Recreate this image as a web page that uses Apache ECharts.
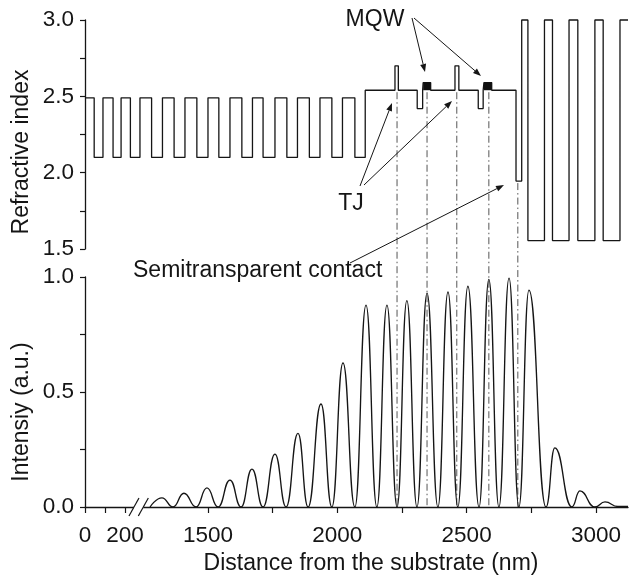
<!DOCTYPE html>
<html><head><meta charset="utf-8">
<script src="https://cdn.jsdelivr.net/npm/echarts@6/dist/echarts.min.js"></script>
<style>html,body{margin:0;padding:0;background:#fff}#c{width:631px;height:581px}</style>
</head><body><div id="c"></div>
<script>
// ---------------- data ----------------
// Layer boundaries of the structure (nm, on the distance-axis scale) and refractive index of each layer
const layerEdges = [1024.5, 1060, 1094, 1133, 1164, 1200, 1237, 1282, 1324, 1369, 1411, 1457, 1500, 1542,
  1585, 1631, 1672, 1713, 1759, 1805, 1846, 1892, 1933, 1979, 2020, 2068,
  2108, 2223, 2236, 2309, 2330, 2332, 2361, 2455, 2470, 2545, 2564, 2567, 2597,
  2691, 2713, 2737, 2801, 2832, 2896, 2930, 2996, 3028, 3093, 3124];
const layerIndex = [2.49, 2.10, 2.49, 2.10, 2.49, 2.10, 2.49, 2.10, 2.49, 2.10, 2.49, 2.10, 2.49, 2.10,
  2.49, 2.10, 2.49, 2.10, 2.49, 2.10, 2.49, 2.10, 2.49, 2.10, 2.49, 2.10,
  2.54, 2.70, 2.54, 2.42, 2.54, 2.59, 2.54, 2.70, 2.54, 2.42, 2.54, 2.59, 2.54,
  1.945, 3.0, 1.555, 3.0, 1.555, 3.0, 1.555, 3.0, 1.555, 3.0, 3.0];
// MQW regions
const mqwStart = [2332, 2567];
const mqwEnd = [2361, 2597];
const mqwLow = [2.54, 2.54];
const mqwHigh = [2.59, 2.59];
// dash-dot guide lines: TJ, MQW, TJ, MQW, semitransparent contact
const guideX = [2231, 2347, 2462, 2586, 2698];
const guideFrom = [2.54, 2.54, 2.54, 2.54, 1.945];
// standing-wave intensity (extrema)
const intensityX = [1276, 1322, 1365, 1407, 1454, 1496, 1539, 1585, 1628, 1670, 1713, 1759, 1802, 1848, 1887,
  1937, 1979, 2022, 2068, 2111, 2153, 2192, 2231, 2269, 2308, 2347, 2389, 2428, 2466, 2505, 2548,
  2586, 2625, 2664, 2702, 2741, 2807, 2841, 2907, 2938, 2996, 3035, 3085, 3124];
const intensityY = [0.0, 0.04, 0.0, 0.06, 0.0, 0.083, 0.0, 0.117, 0.0, 0.165, 0.0, 0.23, 0.0, 0.32, 0.0,
  0.448, 0.0, 0.626, 0.0, 0.878, 0.0, 0.878, 0.0, 0.897, 0.0, 0.93, 0.0, 0.935, 0.0, 0.96, 0.0,
  0.99, 0.0, 0.995, 0.0, 0.943, 0.0, 0.257, 0.0, 0.07, 0.0, 0.022, 0.002, 0.002];
// x-axis ticks (nm): before and after the axis break
const xTicksLow = [0, 100, 200];
const xTicksHigh = [1500, 1750, 2000, 2250, 2500, 2750, 3000];
const xLabelValues = [0, 200, 1500, 2000, 2500, 3000];
const yTopTicks = [1.5, 2.0, 2.5, 3.0];
const yBottomTicks = [0.0, 0.5, 1.0];

// ---------------- broken distance axis ----------------
const BREAK_NM = 1000, LOW_ORIGIN = 1024.5, LOW_SCALE = 0.773;
const X_MIN = 1024.5, X_MAX = 3124;
function toAxis(nm) { return nm < BREAK_NM ? LOW_ORIGIN + nm * LOW_SCALE : nm; }
const labelMap = {};
xLabelValues.forEach(v => { labelMap[toAxis(v).toFixed(2)] = String(v); });

const FONT = 'Liberation Sans, Arial, Helvetica, sans-serif';
const INK = '#151515';

const chart = echarts.init(document.getElementById('c'), null, {renderer: 'canvas'});

function yFmt(ticks) {
  return v => ticks.some(t => Math.abs(t - v) < 1e-6) ? v.toFixed(1) : '';
}

chart.setOption({
  animation: false,
  backgroundColor: '#fff',
  grid: [
    {left: 85, right: 3, top: 20, height: 229, containLabel: false},
    {left: 85, right: 3, top: 277, height: 230, containLabel: false}
  ],
  xAxis: [
    {gridIndex: 0, type: 'value', min: X_MIN, max: X_MAX, show: false},
    {gridIndex: 1, type: 'value', min: X_MIN, max: X_MAX,
      axisLine: {show: true, onZero: false, lineStyle: {color: INK, width: 1.3}},
      axisTick: {show: true, length: 6, inside: false, lineStyle: {color: INK, width: 1.2},
        customValues: xTicksLow.map(toAxis).concat(xTicksHigh.map(toAxis))},
      axisLabel: {show: true, customValues: xLabelValues.map(toAxis), fontSize: 22.5, fontFamily: FONT,
        color: INK, margin: 17, formatter: v => labelMap[Number(v).toFixed(2)] || ''},
      splitLine: {show: false}
    }
  ],
  yAxis: [
    {gridIndex: 0, type: 'value', min: 1.5, max: 3.0, interval: 0.25,
      axisLine: {show: true, lineStyle: {color: INK, width: 1.3}},
      axisTick: {show: true, length: 5, lineStyle: {color: INK, width: 1.2}},
      axisLabel: {fontSize: 22.5, fontFamily: FONT, color: INK, margin: 11, formatter: yFmt(yTopTicks)},
      splitLine: {show: false}},
    {gridIndex: 1, type: 'value', min: 0, max: 1.0, interval: 0.25,
      axisLine: {show: true, lineStyle: {color: INK, width: 1.3}},
      axisTick: {show: true, length: 5, lineStyle: {color: INK, width: 1.2}},
      axisLabel: {fontSize: 22.5, fontFamily: FONT, color: INK, margin: 11, formatter: yFmt(yBottomTicks)},
      splitLine: {show: false}}
  ],
  series: [
    {type: 'line', xAxisIndex: 0, yAxisIndex: 0, step: 'end', symbol: 'none', clip: false,
      data: layerEdges.map((x, i) => [toAxis(x), layerIndex[i]]),
      lineStyle: {color: INK, width: 1.3}, z: 3},
    {type: 'custom', xAxisIndex: 0, yAxisIndex: 0, clip: false,
      data: mqwStart.map((s, i) => [toAxis(s), toAxis(mqwEnd[i]), mqwLow[i], mqwHigh[i]]),
      renderItem: (params, api) => {
        const p0 = api.coord([api.value(0), api.value(3)]);
        const p1 = api.coord([api.value(1), api.value(2)]);
        return {type: 'rect', shape: {x: p0[0], y: p0[1], width: p1[0] - p0[0], height: p1[1] - p0[1]},
          style: {fill: '#111'}};
      }, z: 4},
    {type: 'line', xAxisIndex: 1, yAxisIndex: 1, symbol: 'none', smooth: 0.5, smoothMonotone: 'x',
      data: intensityX.map((x, i) => [toAxis(x), intensityY[i]]),
      lineStyle: {color: INK, width: 1.35}, z: 3}
  ]
});

// ---------------- annotations ----------------
function arrow(x1, y1, x2, y2) {
  const a = Math.atan2(y2 - y1, x2 - x1), L = 8, W = 3;
  const bx = x2 - L * Math.cos(a), by = y2 - L * Math.sin(a);
  return [
    {type: 'line', shape: {x1, y1, x2: bx, y2: by}, style: {stroke: INK, lineWidth: 1}, z: 10},
    {type: 'polygon', shape: {points: [[x2, y2],
      [bx + W * Math.sin(a), by - W * Math.cos(a)], [bx - W * Math.sin(a), by + W * Math.cos(a)]]},
      style: {fill: INK}, z: 10}
  ];
}
const g = [];
// dash-dot guides through both panels
guideX.forEach((x, i) => {
  const top = chart.convertToPixel({xAxisIndex: 0, yAxisIndex: 0}, [toAxis(x), guideFrom[i]]);
  const bot = chart.convertToPixel({xAxisIndex: 1, yAxisIndex: 1}, [toAxis(x), 0]);
  g.push({type: 'line', shape: {x1: top[0], y1: top[1] + 2, x2: bot[0], y2: bot[1]},
    style: {stroke: '#555', lineWidth: 1, lineDash: [7, 3, 1.5, 3]}, z: 2});
});
// axis break marks
const bL = chart.convertToPixel({xAxisIndex: 1, yAxisIndex: 1}, [toAxis(245), 0]);
const bR = chart.convertToPixel({xAxisIndex: 1, yAxisIndex: 1}, [toAxis(1250), 0]);
g.push({type: 'rect', shape: {x: bL[0], y: bL[1] - 3, width: bR[0] - bL[0], height: 6}, style: {fill: '#fff'}, z: 20});
[bL[0], bR[0]].forEach(cx => {
  g.push({type: 'line', shape: {x1: cx - 5, y1: bL[1] + 9, x2: cx + 5, y2: bL[1] - 9},
    style: {stroke: INK, lineWidth: 1.2}, z: 21});
});
// texts
const txt = (text, x, y, opts) => Object.assign({type: 'text', x, y, z: 15,
  style: Object.assign({text, fontSize: 23, fontFamily: FONT, fill: INK, align: 'center', verticalAlign: 'middle'}, opts || {})});
g.push(Object.assign(txt('Refractive index', 0, 0), {x: 22, y: 152, rotation: Math.PI / 2}));
g.push(Object.assign(txt('Intensiy (a.u.)', 0, 0), {x: 22, y: 412, rotation: Math.PI / 2}));
g.push(txt('Distance from the substrate (nm)', 371, 564));
g.push(txt('MQW', 375, 20));
g.push(txt('TJ', 351, 204));
g.push(txt('Semitransparent contact', 133, 271, {align: 'left'}));
// arrows
[[412, 18, 425, 72], [414, 18, 481, 76], [360, 186, 392, 103], [364, 185, 452, 101], [350, 263, 504, 185]]
  .forEach(a => g.push(...arrow(...a)));
chart.setOption({graphic: g});
</script></body></html>
